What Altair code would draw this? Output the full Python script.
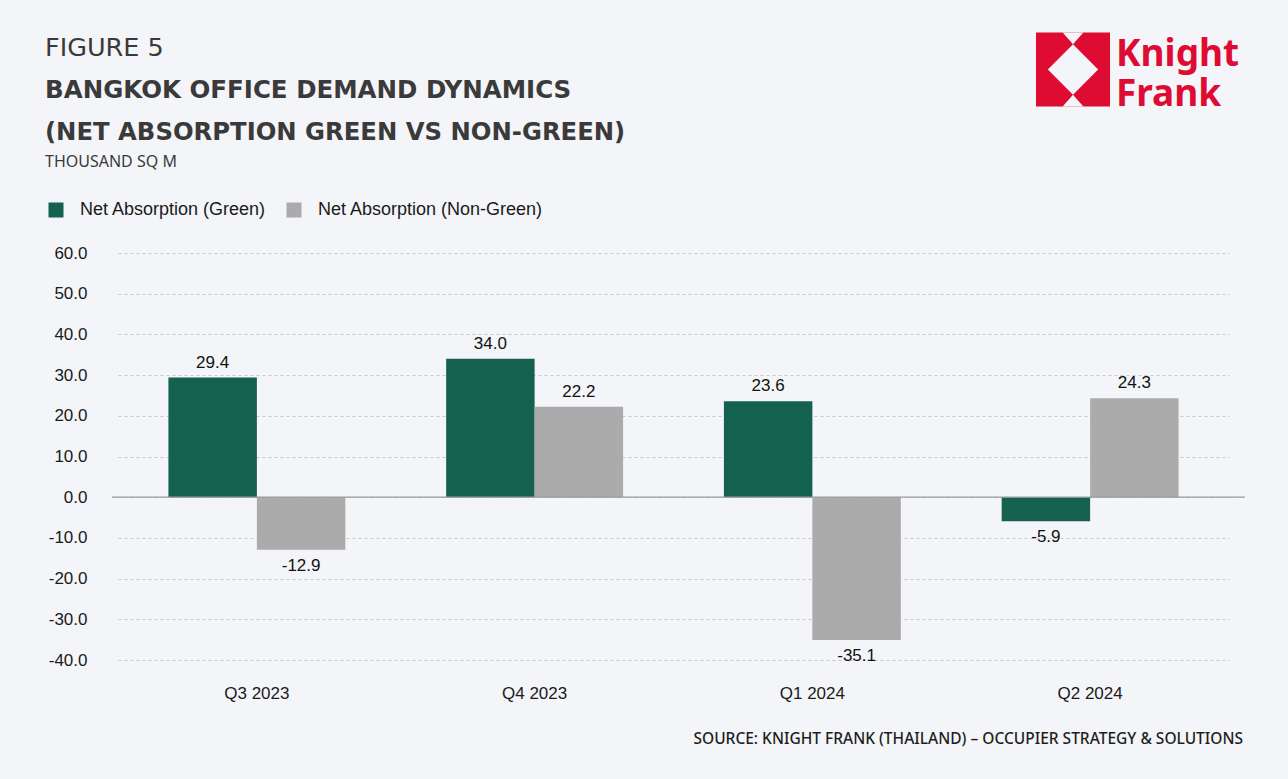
import altair as alt
import pandas as pd

quarters = ["Q3 2023", "Q4 2023", "Q1 2024", "Q2 2024"]
green_values = [29.4, 34.0, 23.6, -5.9]
non_green_values = [-12.9, 22.2, -35.1, 24.3]
series_names = ["Net Absorption (Green)", "Net Absorption (Non-Green)"]
series_colors = ["#14614f", "#ababab"]
y_tick_values = [-40, -30, -20, -10, 0, 10, 20, 30, 40, 50, 60]
title_lines = [
    "FIGURE 5",
    "BANGKOK OFFICE DEMAND DYNAMICS",
    "(NET ABSORPTION GREEN VS NON-GREEN)",
    "THOUSAND SQ M",
]
source_text = "SOURCE: KNIGHT FRANK (THAILAND) – OCCUPIER STRATEGY & SOLUTIONS"
logo_words = ["Knight", "Frank"]

rows = []
for q, g, n in zip(quarters, green_values, non_green_values):
    rows.append({"quarter": q, "series": series_names[0], "value": g})
    rows.append({"quarter": q, "series": series_names[1], "value": n})
df = pd.DataFrame(rows)

W, H = 1133, 407
LABEL_FONT = "Liberation Sans"
TITLE_FONT = "DejaVu Sans"
HYPHEN = "replace(format(datum.value, '.1f'), '\u2212', '-')"

x_enc = alt.X(
    "quarter:N",
    sort=quarters,
    scale=alt.Scale(range=[6, 1117], paddingInner=0.363, paddingOuter=0.1815),
    axis=alt.Axis(title=None, labelAngle=0, ticks=False, domain=False, grid=False,
                  labelPadding=25, labelFont=LABEL_FONT, labelFontSize=17,
                  labelColor="#1a1a1a"),
)
y_enc = alt.Y(
    "value:Q",
    scale=alt.Scale(domain=[-40, 60], nice=False),
    axis=alt.Axis(values=y_tick_values, labelExpr=HYPHEN, title=None, ticks=False, domain=False,
                  labelPadding=25, labelFont=LABEL_FONT, labelFontSize=17, labelColor="#1a1a1a",
                  gridDash=[3, 3], gridColor="#c8c8c8", gridWidth=1),
)
xoff = alt.XOffset("series:N", sort=series_names, scale=alt.Scale(paddingInner=0, paddingOuter=0))

base = alt.Chart(df).transform_calculate(lbl=HYPHEN)

bars = base.mark_bar().encode(
    x=x_enc,
    y=y_enc,
    xOffset=xoff,
    color=alt.Color(
        "series:N",
        scale=alt.Scale(domain=series_names, range=series_colors),
        legend=alt.Legend(
            orient="none", legendX=-65, legendY=-52, direction="horizontal", title=None,
            symbolType="square", symbolSize=225, symbolStrokeWidth=0, symbolOpacity=1,
            labelFont=LABEL_FONT, labelFontSize=18, labelColor="#1a1a1a", labelLimit=0,
            labelOffset=15, columnPadding=18, padding=0,
        ),
    ),
)

labels_pos = base.transform_filter("datum.value >= 0").mark_text(
    baseline="bottom", dy=-6, font=LABEL_FONT, fontSize=17, color="#111111"
).encode(x=alt.X("quarter:N", sort=quarters), y="value:Q", xOffset=xoff, text="lbl:N")

labels_neg = base.transform_filter("datum.value < 0").mark_text(
    baseline="top", dy=8, font=LABEL_FONT, fontSize=17, color="#111111"
).encode(x=alt.X("quarter:N", sort=quarters), y="value:Q", xOffset=xoff, text="lbl:N")

zero_rule = alt.Chart(pd.DataFrame({"v": [0]})).mark_rule(color="#9a9a9a", strokeWidth=1.2).encode(
    y=alt.Y("v:Q")
)

title_df = pd.DataFrame({"t": title_lines, "i": [0, 1, 2, 3]})
def title_layer(i, y, size, weight, color, font):
    return alt.Chart(title_df).transform_filter(f"datum.i == {i}").mark_text(
        align="left", baseline="middle", font=font, fontSize=size,
        fontWeight=weight, color=color,
    ).encode(x=alt.value(-67), y=alt.value(y), text="t:N")

titles = [
    title_layer(0, -205, 25.5, "normal", "#3a3a3a", TITLE_FONT),
    title_layer(1, -162, 24.5, "bold", "#3a3a3a", TITLE_FONT),
    title_layer(2, -120, 24.3, "bold", "#3a3a3a", TITLE_FONT),
    title_layer(3, -91, 16, "normal", "#3a3a3a", "Noto Sans"),
]

source = alt.Chart(pd.DataFrame({"t": [source_text]})).mark_text(
    align="right", baseline="middle", font="Noto Sans", fontSize=15.5, fontWeight=500, color="#1e1e1e"
).encode(x=alt.value(1131), y=alt.value(486), text="t:N")

logo_red = "#de0b33"
logo_sq = alt.Chart(pd.DataFrame({"a": [1]})).mark_point(
    shape="M-1,-1L1,-1L1,1L-1,1Z", size=5476, filled=True, color=logo_red, opacity=1, strokeWidth=0
).encode(x=alt.value(961), y=alt.value(-183.5))
logo_white = alt.Chart(pd.DataFrame({"a": [1]})).mark_point(
    shape=("M-0.28,-1L0.28,-1L0,-0.68Z M0,-0.68L0.68,0L0,0.68L-0.68,0Z "
           "M-0.28,1L0.28,1L0,0.68Z"),
    size=5476, filled=True, color="#f3f5f8", opacity=1, strokeWidth=0
).encode(x=alt.value(961), y=alt.value(-183.5))

logo_df = pd.DataFrame({"w": logo_words, "i": [0, 1]})
logo_text = [
    alt.Chart(logo_df).transform_filter(f"datum.i == {i}").mark_text(
        align="left", baseline="alphabetic", font="Noto Sans", fontSize=37, fontWeight="bold",
        color=logo_red,
    ).encode(x=alt.value(1004), y=alt.value(yy), text="w:N")
    for i, yy in [(0, -187), (1, -147)]
]

chart = alt.layer(
    bars, zero_rule, labels_pos, labels_neg, *titles, source, logo_sq, logo_white, *logo_text
).properties(
    width=W, height=H,
    autosize=alt.AutoSizeParams(type="none"),
    padding={"left": 112, "top": 253, "right": 43, "bottom": 119},
    background="#f3f5f8",
).configure_view(stroke=None)

chart.save("out.html", embed_options={"renderer": "svg", "actions": False})
